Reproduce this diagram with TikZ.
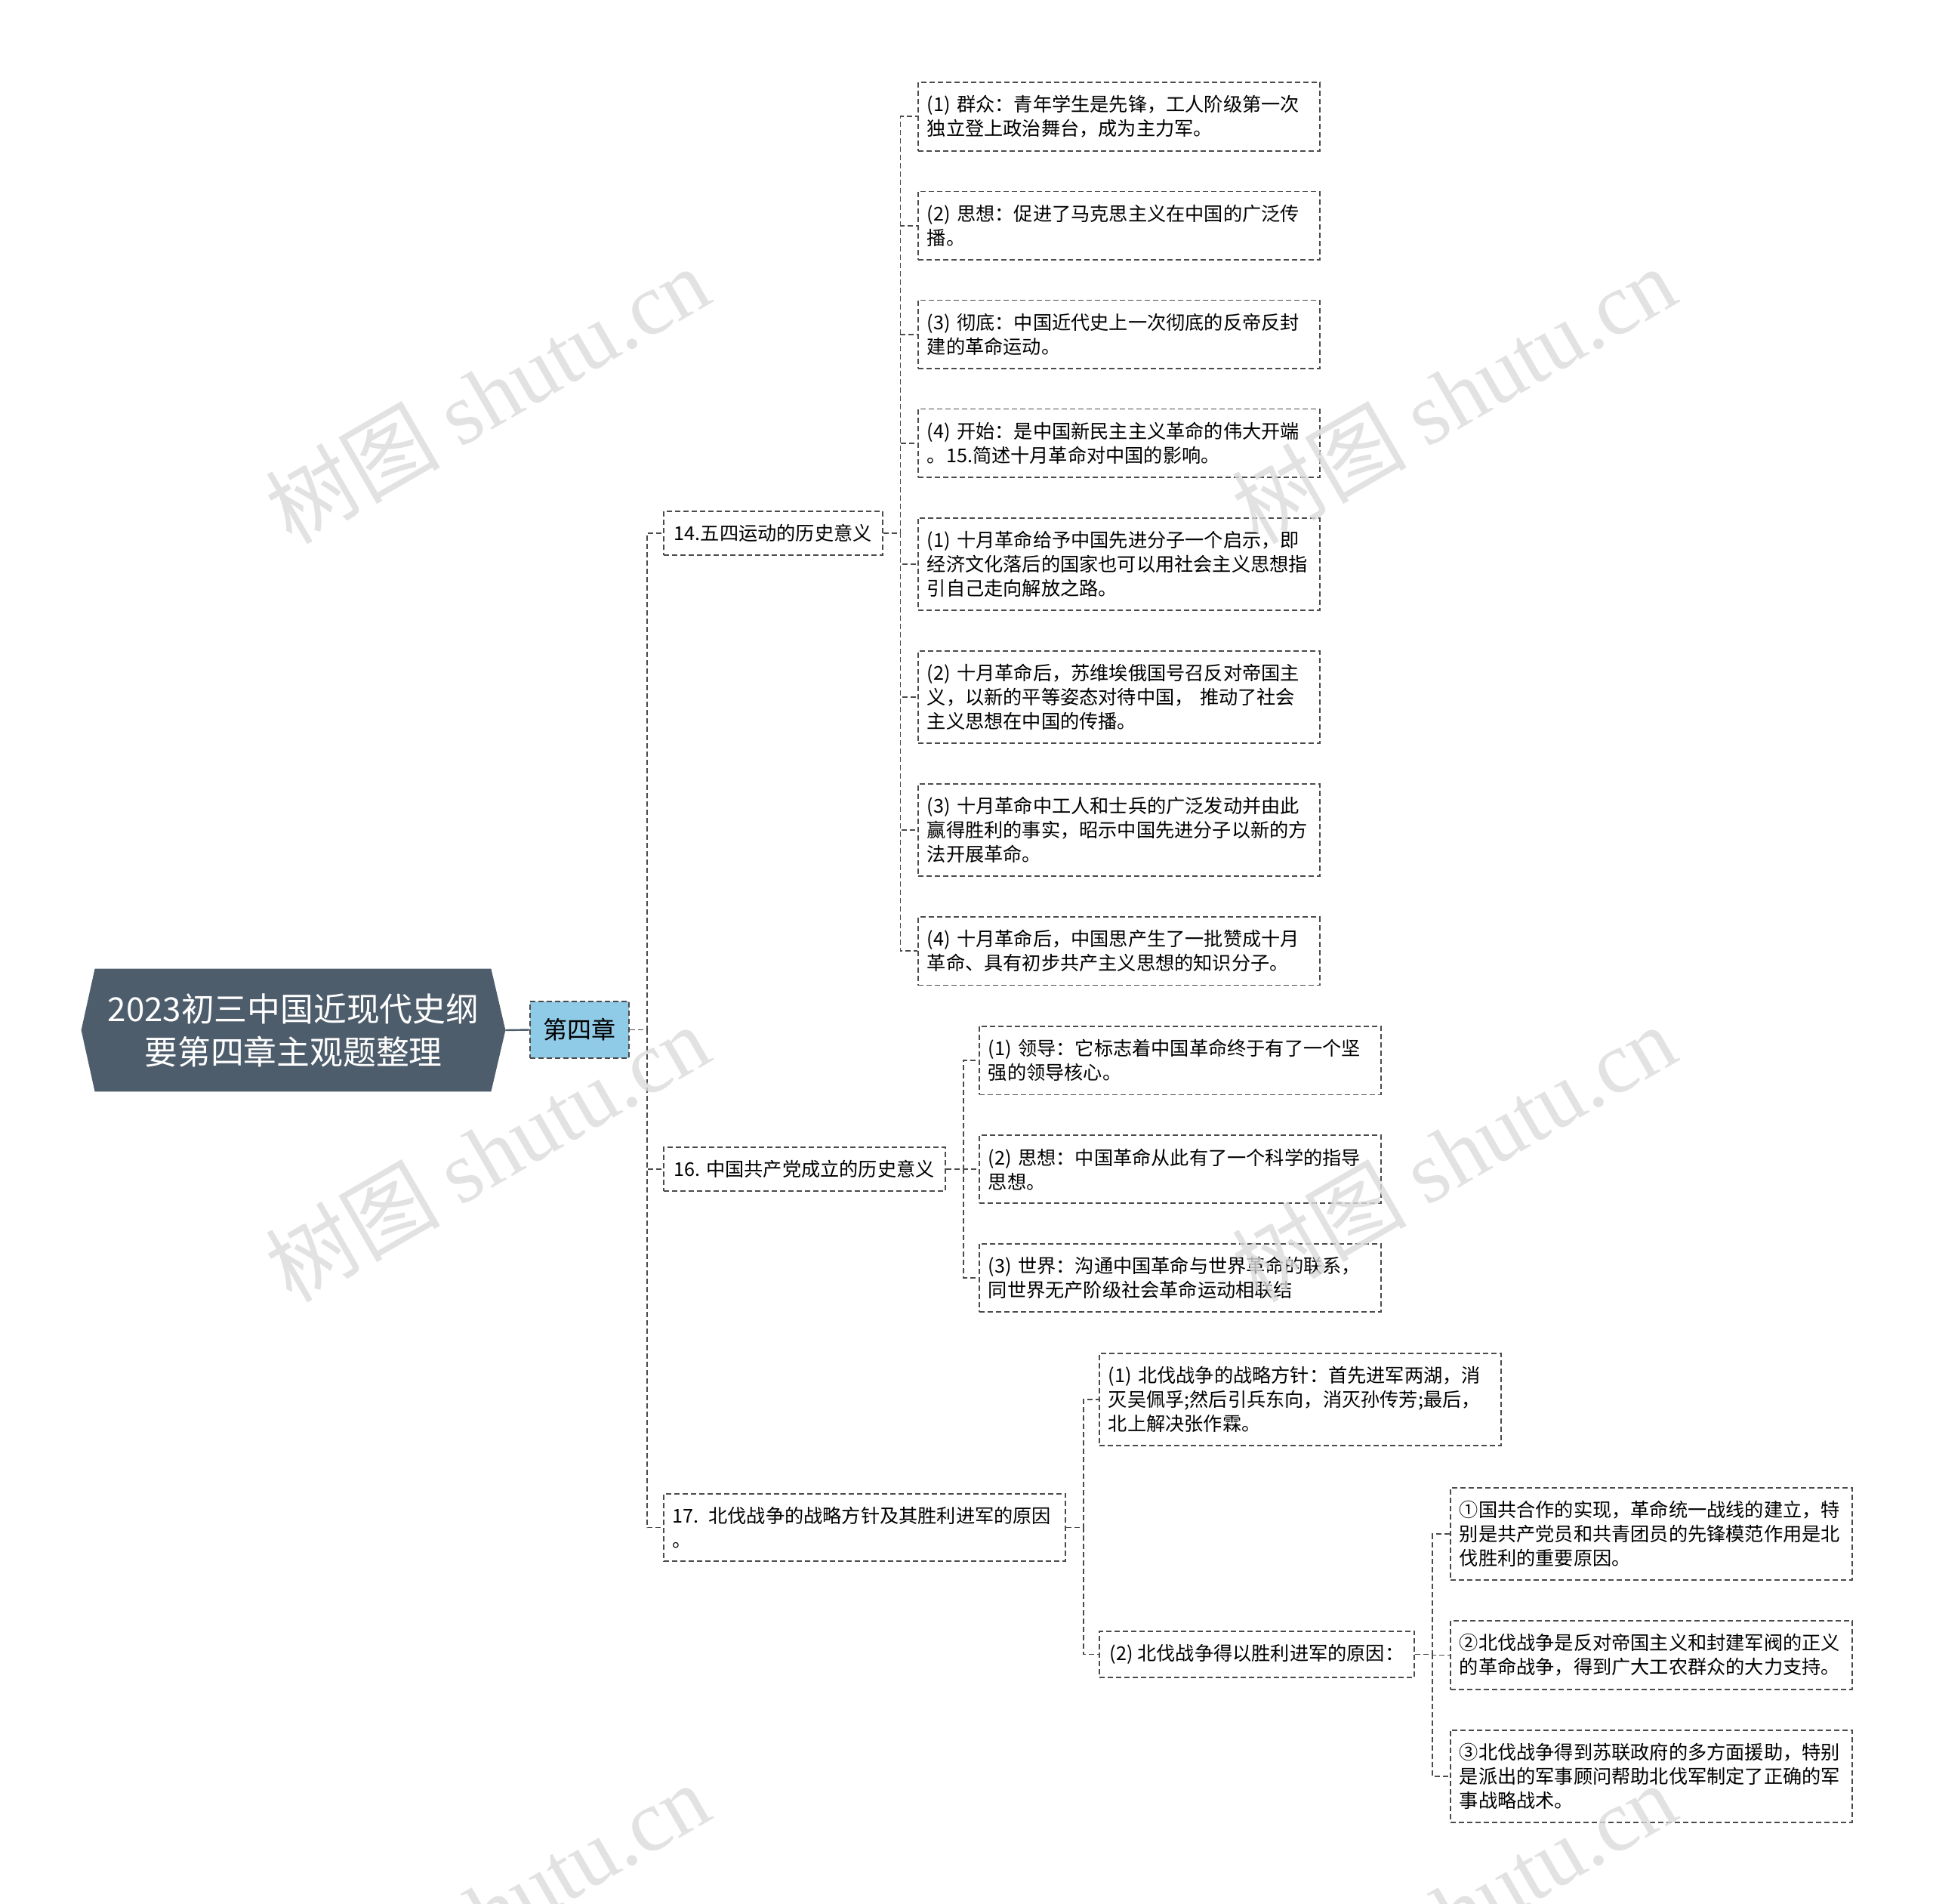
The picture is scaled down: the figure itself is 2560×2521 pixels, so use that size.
\documentclass[tikz,border=0pt]{standalone}
\usepackage{fontspec}
\setmainfont{Noto Sans CJK SC}
\newfontfamily\wmlatin{Liberation Serif}
\usetikzlibrary{positioning,backgrounds}
\definecolor{TitleSlate}{RGB}{78,93,108}
\definecolor{ChapterBlue}{RGB}{143,202,230}
\definecolor{LinkGray}{RGB}{75,75,75}
\newcommand{\leaffont}{\fontsize{12.6}{16}\selectfont}

\begin{document}
\begin{tikzpicture}[x=0.5pt, y=-0.5pt,
    rootbox/.style={rectangle, minimum width=280.5pt, minimum height=81pt,
                 align=center, text=white, font=\fontsize{21.9}{28.6}\selectfont},
    chapbox/.style={rectangle, draw=LinkGray, fill=ChapterBlue, dash pattern=on 3.5pt off 2pt,
                 line width=0.9pt, minimum width=65.5pt, minimum height=37.5pt,
                 font=\fontsize{16}{20}\selectfont},
    topicbox/.style={rectangle, draw=LinkGray, fill=white, dash pattern=on 3.5pt off 2pt,
                 line width=0.9pt, inner xsep=7pt, inner ysep=8.7pt, font=\leaffont},
    leafbox/.style={topicbox, text width=254pt, inner xsep=6pt, align=left},
    link/.style={draw=LinkGray, dash pattern=on 3.5pt off 2pt, line width=0.9pt},
    rootlink/.style={draw=TitleSlate, line width=1.2pt},
    watermark/.style={rotate=30, text=black!14, opacity=0.8, font=\fontsize{58}{58}\selectfont}
]
    \useasboundingbox (0,0) rectangle (2560,2521);

    % root and chapter
    \node[rootbox] (root) at (388.5,1364) {2023初三中国近现代史纲\\要第四章主观题整理};
    \begin{scope}[on background layer]
        \fill[TitleSlate] (root.west) -- ([xshift=9pt]root.north west) -- ([xshift=-9.5pt]root.north east)
            -- (root.east) -- ([xshift=-9.5pt]root.south east) -- ([xshift=9pt]root.south west) -- cycle;
    \end{scope}
    \node[chapbox] (ch) at (767.5,1363.5) {第四章};

    % topics
    \node[topicbox, anchor=west] (t14) at (878,706) {14.五四运动的历史意义};
    \node[topicbox, anchor=west] (t16) at (878,1548) {16. 中国共产党成立的历史意义};
    \node[leafbox, anchor=west] (t17) at (878,2022.5) {17. 北伐战争的战略方针及其胜利进军的原因\\。};

    % 14
    \node[leafbox, anchor=north west] (a1) at (1215,108) {(1) 群众：青年学生是先锋，工人阶级第一次\\独立登上政治舞台，成为主力军。};
    \node[leafbox, below=26pt of a1] (a2) {(2) 思想：促进了马克思主义在中国的广泛传\\播。};
    \node[leafbox, below=26pt of a2] (a3) {(3) 彻底：中国近代史上一次彻底的反帝反封\\建的革命运动。};
    \node[leafbox, below=26pt of a3] (a4) {(4) 开始：是中国新民主主义革命的伟大开端\\。15.简述十月革命对中国的影响。};
    \node[leafbox, below=26pt of a4] (a5) {(1) 十月革命给予中国先进分子一个启示，即\\经济文化落后的国家也可以用社会主义思想指\\引自己走向解放之路。};
    \node[leafbox, below=26pt of a5] (a6) {(2) 十月革命后，苏维埃俄国号召反对帝国主\\义，以新的平等姿态对待中国， 推动了社会\\主义思想在中国的传播。};
    \node[leafbox, below=26pt of a6] (a7) {(3) 十月革命中工人和士兵的广泛发动并由此\\赢得胜利的事实，昭示中国先进分子以新的方\\法开展革命。};
    \node[leafbox, below=26pt of a7] (a8) {(4) 十月革命后，中国思产生了一批赞成十月\\革命、具有初步共产主义思想的知识分子。};

    % 16
    \node[leafbox, anchor=north west] (b1) at (1296,1358) {(1) 领导：它标志着中国革命终于有了一个坚\\强的领导核心。};
    \node[leafbox, below=26pt of b1] (b2) {(2) 思想：中国革命从此有了一个科学的指导\\思想。};
    \node[leafbox, below=26pt of b2] (b3) {(3) 世界：沟通中国革命与世界革命的联系，\\同世界无产阶级社会革命运动相联结};

    % 17
    \node[leafbox, anchor=north west] (c1) at (1455,1791) {(1) 北伐战争的战略方针：首先进军两湖，消\\灭吴佩孚;然后引兵东向，消灭孙传芳;最后，\\北上解决张作霖。};
    \node[topicbox, anchor=west] (c2) at (1455,2190.5) {(2) 北伐战争得以胜利进军的原因：};
    \node[leafbox, anchor=north west] (d1) at (1920,1969) {①国共合作的实现，革命统一战线的建立，特\\别是共产党员和共青团员的先锋模范作用是北\\伐胜利的重要原因。};
    \node[leafbox, below=26pt of d1] (d2) {②北伐战争是反对帝国主义和封建军阀的正义\\的革命战争，得到广大工农群众的大力支持。};
    \node[leafbox, below=26pt of d2] (d3) {③北伐战争得到苏联政府的多方面援助，特别\\是派出的军事顾问帮助北伐军制定了正确的军\\事战略战术。};

    % connectors
    \draw[rootlink] (root.east) -- (ch.west);
    \foreach \t in {t14,t16,t17}
        \draw[link] (ch.east) -- ++(11.5pt,0) |- (\t.west);
    \foreach \i in {1,...,8}
        \draw[link] (t14.east) -- ++(11.5pt,0) |- (a\i.west);
    \foreach \i in {1,2,3}
        \draw[link] (t16.east) -- ++(11.5pt,0) |- (b\i.west);
    \foreach \i in {1,2}
        \draw[link] (t17.east) -- ++(11.5pt,0) |- (c\i.west);
    \foreach \i in {1,2,3}
        \draw[link] (c2.east) -- ++(11.5pt,0) |- (d\i.west);

    % watermarks
    \foreach \wx in {645,1925}
        \foreach \wy in {522,1526,2530}
            \node[watermark] (wm\wx\wy) at (\wx,\wy) {树图 {\wmlatin shutu.cn}};
\end{tikzpicture}
\end{document}
